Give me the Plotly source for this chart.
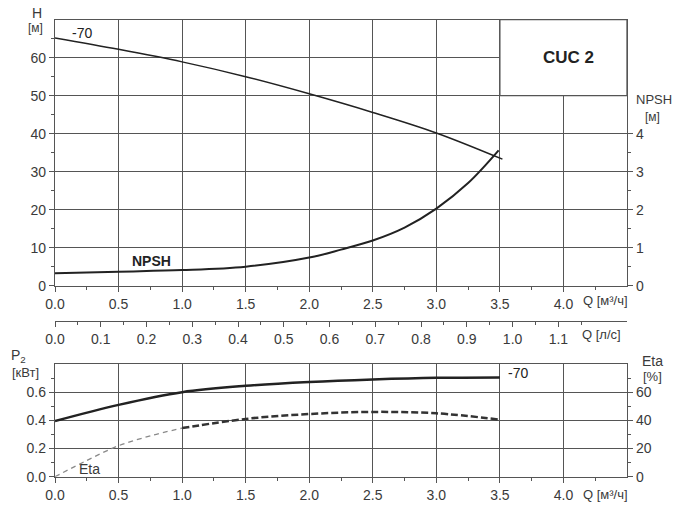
import plotly.graph_objects as go

# pump curve CUC 2 -70, Q in m3/h
q_h = [0.0, 0.5, 1.0, 1.5, 2.0, 2.5, 3.0, 3.52]
h = [65.2, 62.2, 58.9, 55.0, 50.5, 45.6, 40.2, 33.3]

q_npsh = [0.0, 0.5, 1.0, 1.5, 2.0, 2.25, 2.5, 2.75, 3.0, 3.25, 3.49]
npsh = [0.33, 0.37, 0.41, 0.50, 0.74, 0.95, 1.19, 1.53, 2.03, 2.70, 3.56]

q_p2 = [0.0, 0.5, 1.0, 1.5, 2.0, 2.5, 3.0, 3.5]
p2 = [0.395, 0.51, 0.60, 0.645, 0.672, 0.69, 0.702, 0.705]

q_eta = [0.0, 0.25, 0.5, 0.75, 1.0, 1.5, 2.0, 2.5, 3.0, 3.5]
eta = [0.0, 11.5, 22.0, 29.0, 34.5, 41.0, 44.5, 46.0, 45.0, 40.5]

q_ticks = [0.0, 0.5, 1.0, 1.5, 2.0, 2.5, 3.0, 3.5, 4.0]
q_minor = [0.25, 0.75, 1.25, 1.75, 2.25, 2.75, 3.25, 3.75, 4.25]
qls_ticks = [0.0, 0.1, 0.2, 0.3, 0.4, 0.5, 0.6, 0.7, 0.8, 0.9, 1.0, 1.1]
qls_minor = [0.05, 0.15, 0.25, 0.35, 0.45, 0.55, 0.65, 0.75, 0.85, 0.95, 1.05, 1.15]
h_ticks = [0, 10, 20, 30, 40, 50, 60]
h_minor = [5, 15, 25, 35, 45, 55, 65]
npsh_ticks = [0, 1, 2, 3, 4]
npsh_minor = [0.5, 1.5, 2.5, 3.5]
p2_ticks = [0.0, 0.2, 0.4, 0.6]
p2_minor = [0.1, 0.3, 0.5, 0.7]
eta_ticks = [0, 20, 40, 60]
eta_minor = [10, 30, 50, 70]

Q_MAX = 4.5
LS = 3.6  # m3/h per l/s

W, H = 676, 514
grid = "#555555"
ink = "#222222"
txt = "#3a3a3a"
font = "Liberation Sans"

fig = go.Figure()

fig.add_trace(go.Scatter(x=q_h, y=h, mode="lines", line=dict(color=ink, width=1.5, shape="spline"),
                         xaxis="x", yaxis="y", showlegend=False))
fig.add_trace(go.Scatter(x=q_npsh, y=npsh, mode="lines", line=dict(color=ink, width=2, shape="spline"),
                         xaxis="x", yaxis="y2", showlegend=False))
# invisible trace so the l/s axis is drawn
fig.add_trace(go.Scatter(x=[v / LS for v in q_h], y=h, mode="lines", opacity=0, hoverinfo="skip",
                         xaxis="x3", yaxis="y", showlegend=False))

fig.add_trace(go.Scatter(x=q_p2, y=p2, mode="lines", line=dict(color=ink, width=2.5, shape="spline"),
                         xaxis="x2", yaxis="y3", showlegend=False))
k = q_eta.index(1.0)
fig.add_trace(go.Scatter(x=q_eta[:k + 1], y=eta[:k + 1], mode="lines",
                         line=dict(color="#8a8a8a", width=1.3, dash="5px,4px", shape="spline"),
                         xaxis="x2", yaxis="y4", showlegend=False))
fig.add_trace(go.Scatter(x=q_eta[k:], y=eta[k:], mode="lines",
                         line=dict(color="#333333", width=2.5, dash="7px,3px", shape="spline"),
                         xaxis="x2", yaxis="y4", showlegend=False))


def px_x(p):
    return (p - 55) / (W - 55 - 49)


def px_y(p):
    return (H - p) / H


tick_font = dict(family=font, size=14, color=txt)
common = dict(showline=True, linecolor=grid, linewidth=1.3, ticks="outside", tickcolor=grid,
              tickwidth=1.2, ticklen=5, tickfont=tick_font, zeroline=False, gridcolor=grid,
              gridwidth=1.3, fixedrange=True, automargin=False)

fig.update_layout(
    width=W, height=H,
    margin=dict(l=55, r=49, t=0, b=0),
    paper_bgcolor="white", plot_bgcolor="white",
    font=dict(family=font, color=txt),
    xaxis=dict(common, domain=[0, 1], range=[0, Q_MAX], anchor="y", mirror=True, showgrid=True,
               tickvals=q_ticks, ticktext=[f"{v:.1f}" for v in q_ticks],
               minor=dict(tickvals=q_minor, ticklen=3, tickcolor=grid, showgrid=False)),
    yaxis=dict(common, domain=[px_y(285.7), px_y(19.7)], range=[0, 70], anchor="x", mirror=True,
               showgrid=True, tickvals=h_ticks,
               minor=dict(tickvals=h_minor, ticklen=3, tickcolor=grid, showgrid=False)),
    yaxis2=dict(common, range=[0, 7], overlaying="y", side="right", anchor="x", showgrid=False,
                tickvals=npsh_ticks,
                minor=dict(tickvals=npsh_minor, ticklen=3, tickcolor=grid, showgrid=False)),
    xaxis3=dict(common, range=[0, Q_MAX / LS], overlaying="x", anchor="free", position=px_y(320.7),
                side="bottom", showgrid=False, tickvals=qls_ticks,
                ticktext=[f"{v:.1f}" for v in qls_ticks],
                minor=dict(tickvals=qls_minor, ticklen=3, tickcolor=grid, showgrid=False)),
    xaxis2=dict(common, domain=[0, 1], range=[0, Q_MAX], anchor="y3", mirror=True, showgrid=True,
                tickvals=q_ticks, ticktext=[f"{v:.1f}" for v in q_ticks],
                minor=dict(tickvals=q_minor, ticklen=3, tickcolor=grid, showgrid=False)),
    yaxis3=dict(common, domain=[px_y(476.7), px_y(364)], range=[0, 0.8], anchor="x2", mirror=True,
                showgrid=True, tickvals=p2_ticks, ticktext=[f"{v:.1f}" for v in p2_ticks],
                minor=dict(tickvals=p2_minor, ticklen=3, tickcolor=grid, showgrid=False)),
    yaxis4=dict(common, range=[0, 80], overlaying="y3", side="right", anchor="x2", showgrid=False,
                tickvals=eta_ticks,
                minor=dict(tickvals=eta_minor, ticklen=3, tickcolor=grid, showgrid=False)),
)

# title box in the top right corner of the head chart
fig.add_shape(type="rect", xref="x", yref="y", x0=3.5, x1=Q_MAX, y0=50, y1=70,
              fillcolor="white", line=dict(color=grid, width=1.3), layer="between")

ann = []


def label(text, x, y, size=14, bold=False, xanchor="center"):
    t = f"<b>{text}</b>" if bold else text
    ann.append(dict(text=t, x=px_x(x), y=px_y(y), xref="paper", yref="paper", showarrow=False,
                    xanchor=xanchor, yanchor="middle", font=dict(family=font, size=size, color=txt)))


label("H", 37, 13, 14)
label("[м]", 35, 28, 12)
label("NPSH", 654, 100, 13)
label("[м]", 652, 117, 12)
label("Q [м³/ч]", 605, 301, 13)
label("Q [л/с]", 601, 334, 13)
label("P<sub>2</sub>", 18, 356, 14)
label("[кВт]", 25, 372, 13)
label("Eta", 652, 361, 14)
label("[%]", 652, 376, 13)
label("Q [м³/ч]", 605, 494, 13)
label("Eta", 89, 469, 14)
fig.layout.annotations = ann

fig.add_annotation(text="-70", x=0.12, y=66.5, xref="x", yref="y", showarrow=False, xanchor="left",
                   font=dict(family=font, size=14, color=ink))
fig.add_annotation(text="<b>NPSH</b>", x=0.76, y=6.4, xref="x", yref="y", showarrow=False,
                   font=dict(family=font, size=14, color=ink))
fig.add_annotation(text="<b>CUC 2</b>", x=4.04, y=60, xref="x", yref="y", showarrow=False,
                   font=dict(family=font, size=17, color=ink))
fig.add_annotation(text="-70", x=3.55, y=0.735, xref="x2", yref="y3", showarrow=False, xanchor="left",
                   font=dict(family=font, size=14, color=ink))

# page body has a default 8px margin; drop it so the figure sits at the window origin
fig.write_html("out.html", config={"displayModeBar": False},
               post_script="document.body.style.margin='0';")
